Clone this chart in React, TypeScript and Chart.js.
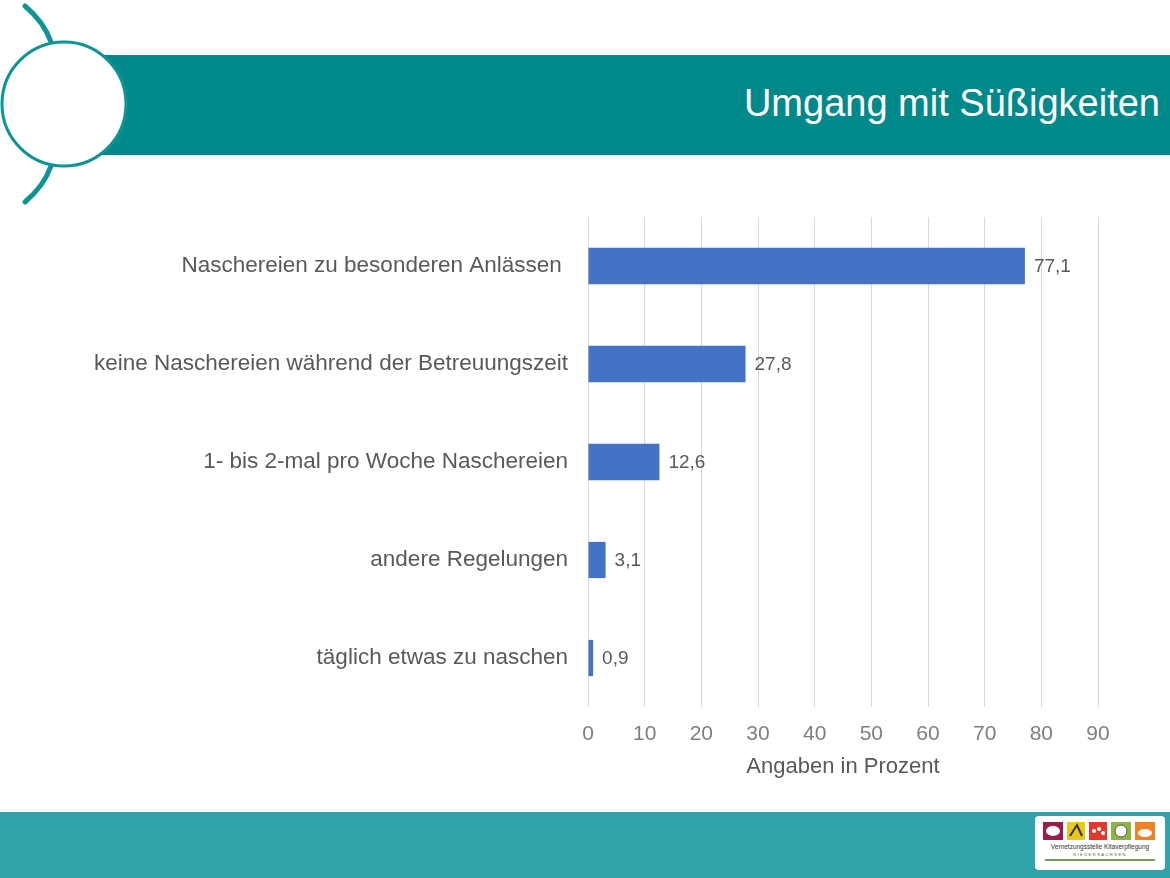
import React, { useEffect, useRef } from "react";
import { Chart, registerables } from "chart.js";

Chart.register(...registerables);

const categories = [
  "Naschereien zu besonderen Anlässen ",
  "keine Naschereien während der Betreuungszeit",
  "1- bis 2-mal pro Woche Naschereien",
  "andere Regelungen",
  "täglich etwas zu naschen",
];
const values = [77.1, 27.8, 12.6, 3.1, 0.9];
const axisTitle = "Angaben in Prozent";
const chartTitle = "Umgang mit Süßigkeiten";

const FONT = "'Liberation Sans', Arial, sans-serif";

const dataLabelPlugin = {
  id: "dataLabels",
  afterDatasetsDraw(chart: any) {
    const ctx = chart.ctx;
    const meta = chart.getDatasetMeta(0);
    ctx.save();
    ctx.font = `19px ${FONT}`;
    ctx.fillStyle = "#595959";
    ctx.textAlign = "left";
    ctx.textBaseline = "middle";
    meta.data.forEach((bar: any, i: number) => {
      const txt = values[i].toFixed(1).replace(".", ",");
      ctx.fillText(txt, bar.x + 9, bar.y + 1);
    });
    ctx.restore();
  },
};

export default function App() {
  const ref = useRef<HTMLCanvasElement | null>(null);

  useEffect(() => {
    document.body.style.margin = "0";
    const chart = new Chart(ref.current!, {
      type: "bar",
      data: {
        labels: categories,
        datasets: [
          {
            data: values,
            backgroundColor: "#4472C4",
            barPercentage: 0.74,
            categoryPercentage: 0.5,
          },
        ],
      },
      options: {
        indexAxis: "y",
        animation: false,
        responsive: false,
        layout: { padding: { top: 217, right: 72, left: 0, bottom: 0 } },
        plugins: { legend: { display: false }, tooltip: { enabled: false } },
        scales: {
          x: {
            min: 0,
            max: 90,
            ticks: {
              stepSize: 10,
              color: "#7f7f7f",
              font: { family: FONT, size: 21 },
              padding: 15,
            },
            grid: { color: "#d9d9d9", lineWidth: 1, drawTicks: false },
            border: { display: false },
            title: {
              display: true,
              text: axisTitle,
              color: "#595959",
              font: { family: FONT, size: 22 },
              padding: { top: 4, bottom: 98 },
            },
            afterFit(scale: any) {
              scale.height = 878 - 707;
            },
          },
          y: {
            ticks: {
              color: "#595959",
              font: { family: FONT, size: 22.5 },
              padding: 20,
            },
            grid: { display: false, drawTicks: false },
            border: { display: false },
            afterFit(scale: any) {
              scale.width = 588;
            },
          },
        },
      },
      plugins: [dataLabelPlugin],
    });
    return () => chart.destroy();
  }, []);

  return (
    <div
      style={{
        position: "relative",
        width: 1170,
        height: 878,
        overflow: "hidden",
        background: "#ffffff",
        fontFamily: FONT,
      }}
    >
      <div
        style={{
          position: "absolute",
          left: 100,
          top: 55,
          width: 1070,
          height: 100,
          background: "#00898B",
        }}
      />
      <svg
        width={140}
        height={215}
        style={{ position: "absolute", left: 0, top: 0 }}
      >
        <path
          d="M25 6 Q44 22 51 42"
          stroke="#0E9396"
          strokeWidth={5}
          fill="none"
          strokeLinecap="round"
        />
        <path
          d="M51 166 Q44 186 25 202"
          stroke="#0E9396"
          strokeWidth={5}
          fill="none"
          strokeLinecap="round"
        />
        <circle cx={64} cy={104} r={62} fill="#ffffff" stroke="#0E9396" strokeWidth={3} />
      </svg>
      <div
        style={{
          position: "absolute",
          right: 10,
          top: 79,
          color: "#ffffff",
          fontSize: 38,
          lineHeight: "48px",
          whiteSpace: "nowrap",
        }}
      >
        {chartTitle}
      </div>
      <div
        style={{
          position: "absolute",
          left: 0,
          top: 812,
          width: 1170,
          height: 66,
          background: "#30A3A8",
        }}
      />
      <div
        style={{
          position: "absolute",
          left: 1035,
          top: 816,
          width: 130,
          height: 54,
          background: "#ffffff",
          borderRadius: 4,
        }}
      >
        <svg width={130} height={54}>
          <rect x={8} y={6} width={20} height={18} fill="#9B1B4B" />
          <ellipse cx={18} cy={15} rx={7} ry={5} fill="#ffffff" />
          <rect x={32} y={6} width={18} height={18} fill="#E8C81B" />
          <path d="M35 20 L42 9 L47 20" stroke="#333" strokeWidth={2} fill="none" />
          <rect x={54} y={6} width={18} height={18} fill="#E03A2F" />
          <circle cx={59} cy={15} r={2} fill="#fff" />
          <circle cx={64} cy={13} r={2} fill="#fff" />
          <circle cx={68} cy={17} r={2} fill="#fff" />
          <rect x={76} y={6} width={20} height={18} fill="#8DB53F" />
          <circle cx={86} cy={15} r={6} fill="#fff" stroke="#555" strokeWidth={1} />
          <rect x={100} y={6} width={20} height={18} fill="#EE8226" />
          <ellipse cx={110} cy={17} rx={7} ry={4} fill="#fff" />
          <text x={65} y={33} fontSize={6.5} textAnchor="middle" fill="#333" fontFamily={FONT}>
            Vernetzungsstelle Kitaverpflegung
          </text>
          <text x={65} y={40} fontSize={4} textAnchor="middle" fill="#555" fontFamily={FONT} letterSpacing={1.5}>
            NIEDERSACHSEN
          </text>
          <line x1={10} y1={44} x2={120} y2={44} stroke="#4A7A2A" strokeWidth={1.5} />
        </svg>
      </div>
      <canvas
        ref={ref}
        width={1170}
        height={878}
        style={{ position: "absolute", left: 0, top: 0, width: 1170, height: 878 }}
      />
    </div>
  );
}
